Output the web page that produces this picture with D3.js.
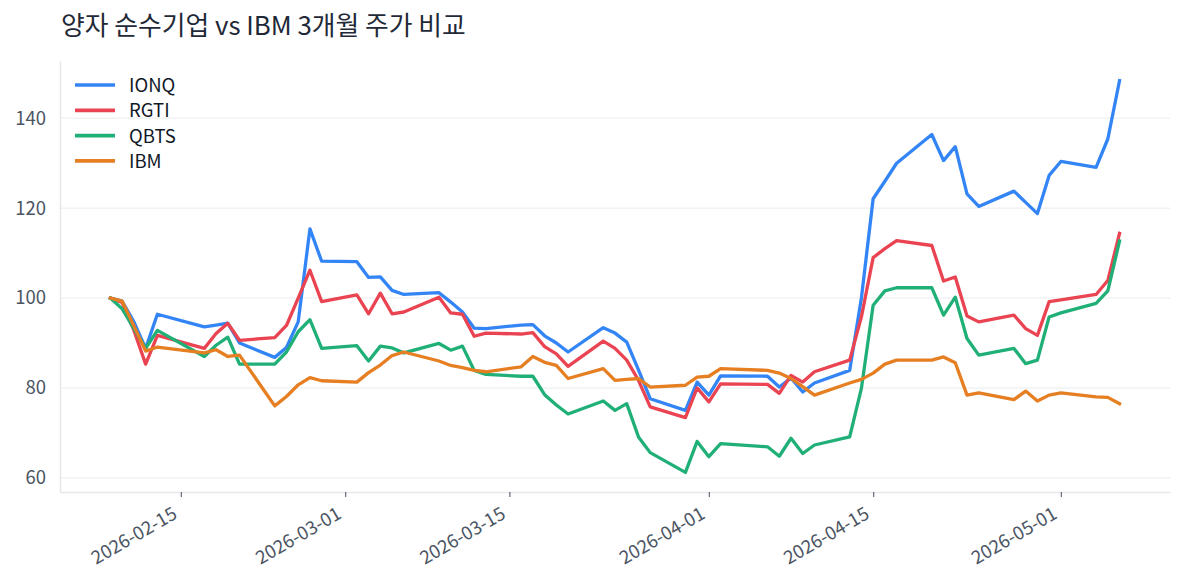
<!DOCTYPE html>
<html>
<head>
<meta charset="utf-8">
<script src="https://cdn.jsdelivr.net/npm/d3@7"></script>
<style>
  body { margin: 0; background: #ffffff; }
  text { font-family: "Noto Sans CJK KR", "Noto Sans", sans-serif; }
</style>
</head>
<body>
<script>
// Trading days (normalised price, first day = 100)
var dates = ["2026-02-09","2026-02-10","2026-02-11","2026-02-12","2026-02-13",
  "2026-02-17","2026-02-18","2026-02-19","2026-02-20","2026-02-23","2026-02-24",
  "2026-02-25","2026-02-26","2026-02-27","2026-03-02","2026-03-03","2026-03-04",
  "2026-03-05","2026-03-06","2026-03-09","2026-03-10","2026-03-11","2026-03-12",
  "2026-03-13","2026-03-16","2026-03-17","2026-03-18","2026-03-19","2026-03-20",
  "2026-03-23","2026-03-24","2026-03-25","2026-03-26","2026-03-27","2026-03-30",
  "2026-03-31","2026-04-01","2026-04-02","2026-04-06","2026-04-07","2026-04-08",
  "2026-04-09","2026-04-10","2026-04-13","2026-04-14","2026-04-15","2026-04-16",
  "2026-04-17","2026-04-20","2026-04-21","2026-04-22","2026-04-23","2026-04-24",
  "2026-04-27","2026-04-28","2026-04-29","2026-04-30","2026-05-01","2026-05-04",
  "2026-05-05","2026-05-06"];

var ionq = [100, 99.3, 94.7, 88.8, 96.4, 93.6, 94.0, 94.4, 90.0, 86.8, 89.0,
  94.7, 115.4, 108.2, 108.1, 104.6, 104.7, 101.7, 100.8, 101.2, 99.1, 96.9, 93.3,
  93.2, 94.0, 94.1, 91.6, 90.0, 88.0, 93.4, 92.2, 90.2, 84.0, 77.6, 75.0,
  81.3, 78.4, 82.7, 82.6, 80.2, 82.2, 79.1, 81.1, 83.9, 100.0, 122.1, 126.0,
  130.0, 136.4, 130.6, 133.7, 123.2, 120.4, 123.8, 121.3, 118.8, 127.3, 130.4, 129.1,
  135.4, 148.4];

var rgti = [100, 99.0, 92.8, 85.3, 91.7, 88.8, 92.1, 94.4, 90.6, 91.2, 93.9,
  100.0, 106.2, 99.2, 100.7, 96.5, 101.1, 96.5, 96.9, 100.2, 96.7, 96.4, 91.5,
  92.2, 92.0, 92.3, 89.2, 87.6, 84.8, 90.4, 88.8, 86.2, 81.7, 75.8, 73.4,
  80.0, 76.9, 80.9, 80.8, 78.8, 82.8, 81.3, 83.6, 86.2, 95.8, 109.0, 111.0,
  112.8, 111.7, 103.8, 104.7, 96.0, 94.7, 96.2, 93.2, 91.7, 99.2, 99.6, 100.8,
  103.9, 114.4];

var qbts = [100, 97.6, 93.2, 88.8, 92.8, 87.0, 89.5, 91.3, 85.3, 85.3, 88.0,
  92.5, 95.2, 88.8, 89.4, 86.0, 89.3, 88.9, 87.8, 89.9, 88.4, 89.3, 83.9,
  83.0, 82.6, 82.6, 78.5, 76.2, 74.2, 77.1, 75.0, 76.5, 69.1, 65.6, 61.2,
  68.1, 64.7, 67.6, 66.9, 64.8, 68.8, 65.4, 67.3, 69.1, 79.9, 98.4, 101.6,
  102.3, 102.3, 96.2, 100.2, 91.0, 87.3, 88.8, 85.4, 86.2, 95.8, 96.7, 98.8,
  101.6, 112.7];

var ibm = [100, 99.3, 93.8, 88.2, 89.1, 87.8, 88.5, 87.0, 87.3, 76.0, 78.1,
  80.7, 82.3, 81.6, 81.3, 83.4, 85.1, 87.2, 88.0, 86.0, 85.0, 84.5, 83.9,
  83.6, 84.7, 87.0, 85.7, 85.0, 82.1, 84.3, 81.7, 81.9, 82.1, 80.2, 80.6,
  82.4, 82.6, 84.3, 83.9, 83.3, 82.1, 80.3, 78.4, 81.1, 81.9, 83.3, 85.3,
  86.2, 86.2, 86.9, 85.6, 78.4, 78.9, 77.4, 79.3, 77.1, 78.4, 78.9, 78.0,
  77.9, 76.5];

var seriesNames = ["IONQ", "RGTI", "QBTS", "IBM"];
var seriesColors = ["#3385f6", "#ea4352", "#20b077", "#e67e22"];
var xTickLabels = ["2026-02-15", "2026-03-01", "2026-03-15", "2026-04-01", "2026-04-15", "2026-05-01"];
var yTickValues = [60, 80, 100, 120, 140];

var titleText = "양자 순수기업 vs IBM 3개월 주가 비교";

// SVG area
var svgWidth = 1185;
var svgHeight = 585;

var chartMargin = { top: 61, right: 15, bottom: 93, left: 60 };
var chartWidth = svgWidth - chartMargin.left - chartMargin.right;
var chartHeight = svgHeight - chartMargin.top - chartMargin.bottom;

var svg = d3.select("body")
  .append("svg")
  .attr("width", svgWidth)
  .attr("height", svgHeight);

svg.append("text")
  .attr("x", 61)
  .attr("y", 35)
  .attr("fill", "#1f2937")
  .style("font-size", "25.8px")
  .text(titleText);

var chartGroup = svg.append("g")
  .attr("transform", `translate(${chartMargin.left}, ${chartMargin.top})`);

var parseDate = d3.timeParse("%Y-%m-%d");
var allSeries = [ionq, rgti, qbts, ibm];

var series = seriesNames.map(function(name, i) {
  return {
    name: name,
    color: seriesColors[i],
    values: dates.map(function(d, j) { return { date: parseDate(d), value: allSeries[i][j] }; })
  };
});

// 5% padding like matplotlib
var xExtent = d3.extent(dates, parseDate);
var xPad = (xExtent[1] - xExtent[0]) * 0.05;
var xScale = d3.scaleTime()
  .domain([new Date(+xExtent[0] - xPad), new Date(+xExtent[1] + xPad)])
  .range([0, chartWidth]);

var yMin = d3.min(allSeries, s => d3.min(s));
var yMax = d3.max(allSeries, s => d3.max(s));
var yPad = (yMax - yMin) * 0.05;
var yScale = d3.scaleLinear()
  .domain([yMin - yPad, yMax + yPad])
  .range([chartHeight, 0]);

// gridlines
chartGroup.append("g")
  .selectAll("line")
  .data(yTickValues)
  .enter()
  .append("line")
  .attr("x1", 0)
  .attr("x2", chartWidth)
  .attr("y1", d => yScale(d))
  .attr("y2", d => yScale(d))
  .attr("stroke", "#f1f2f4")
  .attr("stroke-width", 1.5);

// y axis (no tick marks)
var leftAxis = d3.axisLeft(yScale).tickValues(yTickValues).tickSize(0).tickPadding(14);
var yAxisG = chartGroup.append("g").call(leftAxis);
yAxisG.select(".domain").attr("stroke", "#e5e7eb").attr("stroke-width", 1.5);
yAxisG.selectAll("text")
  .attr("fill", "#4b5563")
  .style("font-size", "18.5px");

// x axis
var bottomAxis = d3.axisBottom(xScale)
  .tickValues(xTickLabels.map(parseDate))
  .tickFormat(d3.timeFormat("%Y-%m-%d"))
  .tickSize(5)
  .tickSizeOuter(0);
var xAxisG = chartGroup.append("g")
  .attr("transform", `translate(0, ${chartHeight})`)
  .call(bottomAxis);
xAxisG.select(".domain").attr("stroke", "#e5e7eb").attr("stroke-width", 1.5);
xAxisG.selectAll(".tick line").attr("stroke", "#6b7280").attr("stroke-width", 1.3);
xAxisG.selectAll("text")
  .attr("fill", "#4b5563")
  .style("font-size", "18.5px")
  .style("text-anchor", "end")
  .attr("x", 0)
  .attr("y", 0)
  .attr("dy", "0.65em")
  .attr("transform", "translate(-9, 15) rotate(-30)");

// lines
var line = d3.line()
  .x(d => xScale(d.date))
  .y(d => yScale(d.value));

chartGroup.selectAll(".series")
  .data(series)
  .enter()
  .append("path")
  .attr("class", "series")
  .attr("d", d => line(d.values))
  .attr("fill", "none")
  .attr("stroke", d => d.color)
  .attr("stroke-width", 3.3)
  .attr("stroke-linejoin", "round")
  .attr("stroke-linecap", "square");

// legend
var legend = svg.append("g").attr("transform", "translate(75, 85)");
var legendItems = legend.selectAll(".legend-item")
  .data(series)
  .enter()
  .append("g")
  .attr("transform", (d, i) => `translate(0, ${i * 25.3})`);

legendItems.append("line")
  .attr("x1", 0)
  .attr("x2", 40)
  .attr("stroke", d => d.color)
  .attr("stroke-width", 3.7);

legendItems.append("text")
  .attr("x", 54)
  .attr("y", 0)
  .attr("dy", "0.38em")
  .attr("fill", "#111827")
  .style("font-size", "18.5px")
  .text(d => d.name);
</script>
</body>
</html>
